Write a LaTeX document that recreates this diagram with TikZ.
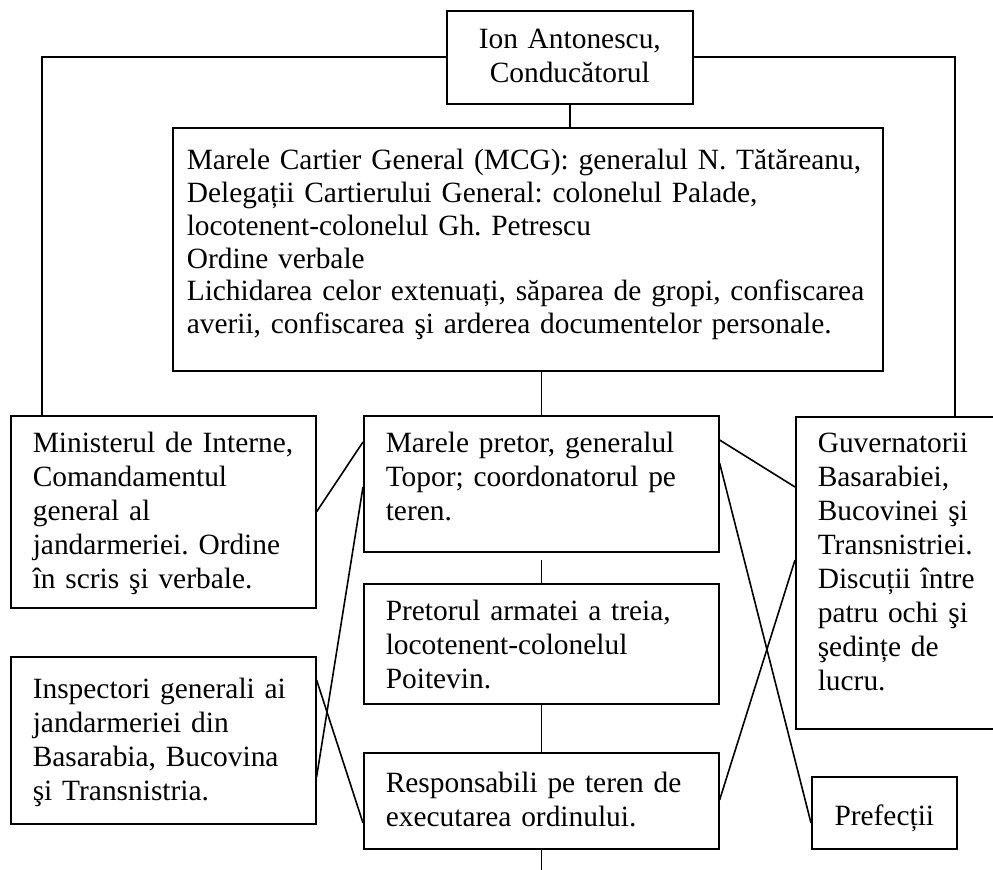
\documentclass[tikz,border=0pt]{standalone}
\usepackage{fontspec}
\setmainfont{Liberation Serif}

\begin{document}
\frenchspacing
\begin{tikzpicture}[x=0.5pt,y=-0.5pt,line width=0.8pt,
	caseta/.style = {draw,anchor=north west,align=left,inner xsep=11pt,inner ysep=0pt,
		font=\fontsize{14.7}{17}\selectfont}]
	\useasboundingbox (0,0) rectangle (993,870);

	\node[caseta,align=center,text width=101pt,text height=19pt,text depth=27.5pt] (anto) at (446,10) {Ion Antonescu,\\ Conducătorul};
	\node[caseta,inner xsep=7pt,text width=341pt,text height=21pt,text depth=100.5pt,font=\fontsize{14.7}{16.4}\selectfont] (mcg) at (172,127) {Marele Cartier General (MCG): generalul N. Tătăreanu,\\ Delegații Cartierului General: colonelul Palade,\\ locotenent-colonelul Gh. Petrescu\\ Ordine verbale\\ Lichidarea celor extenuați, săparea de gropi, confiscarea\\ averii, confiscarea şi arderea documentelor personale.};
	\node[caseta,text width=130.5pt,text height=18.5pt,text depth=77.5pt] (mint) at (10,415) {Ministerul de Interne,\\ Comandamentul\\ general al\\ jandarmeriei. Ordine\\ în scris şi verbale.};
	\node[caseta,text width=155.5pt,text height=18.5pt,text depth=49.5pt] (pretor) at (363,415) {Marele pretor, generalul\\ Topor; coordonatorul pe\\ teren.};
	\node[caseta,text width=83pt,text height=18pt,text depth=138pt] (guv) at (795,416) {Guvernatorii\\ Basarabiei,\\ Bucovinei şi\\ Transnistriei.\\ Discuții între\\ patru ochi şi\\ şedințe de\\ lucru.};
	\node[caseta,text width=155.5pt,text height=18.5pt,text depth=41.5pt] (pret3) at (363,583) {Pretorul armatei a treia,\\ locotenent-colonelul\\ Poitevin.};
	\node[caseta,text width=130.5pt,text height=21pt,text depth=62.5pt] (insp) at (10,656) {Inspectori generali ai\\ jandarmeriei din\\ Basarabia, Bucovina\\ şi Transnistria.};
	\node[caseta,text width=155.5pt,text height=20pt,text depth=28pt] (resp) at (363,752) {Responsabili pe teren de\\ executarea ordinului.};
	\node[caseta,align=center,text width=50.5pt,text height=24.5pt,text depth=11.5pt] (pref) at (811,776) {Prefecții};

	\draw (anto.west) -| ([xshift=16pt]mint.north west);
	\draw (anto.east) -| ([xshift=80pt]guv.north west);
	\draw (anto.south) -- (anto.south |- mcg.north);
	\draw (pretor.north |- mcg.south) -- (pretor.north);
	\draw (pret3.north) -- ([yshift=11.5pt]pret3.north);
	\draw (pret3.south) -- (resp.north);
	\draw (resp.south) -- ([yshift=-12pt]resp.south);

	\draw (mint.east) -- (pretor.west |- 0,442);
	\draw (insp.east |- 0,777) -- (pretor.west |- 0,487);
	\draw (insp.east |- 0,680) -- (resp.west |- 0,823);
	\draw (pretor.east |- 0,440) -- (guv.west |- 0,487);
	\draw (pretor.east |- 0,463) -- (pref.west |- 0,823);
	\draw (guv.west |- 0,560) -- (resp.east |- 0,800);
\end{tikzpicture}
\end{document}
